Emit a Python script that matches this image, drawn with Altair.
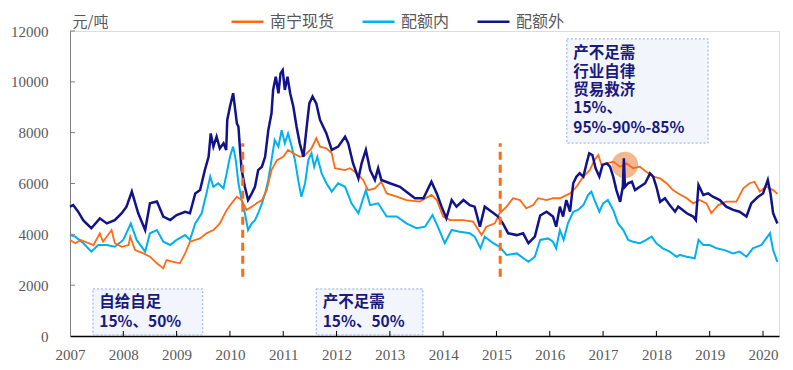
import altair as alt
import pandas as pd

# ---- data ----
spot_years = [2007.0, 2007.1, 2007.2, 2007.44, 2007.56, 2007.62, 2007.78, 2007.84, 2007.97, 2008.1,
              2008.13, 2008.22, 2008.38, 2008.5, 2008.63, 2008.75, 2008.81, 2008.94, 2009.06, 2009.16,
              2009.25, 2009.44, 2009.56, 2009.69, 2009.81, 2009.94, 2010.03, 2010.13, 2010.22, 2010.31,
              2010.41, 2010.5, 2010.6, 2010.69, 2010.78, 2010.88, 2011.0, 2011.09, 2011.19, 2011.31,
              2011.41, 2011.53, 2011.62, 2011.69, 2011.81, 2011.91, 2011.97, 2012.16, 2012.25, 2012.38,
              2012.5, 2012.59, 2012.72, 2012.84, 2012.94, 2013.13, 2013.31, 2013.56, 2013.78, 2013.88,
              2014.0, 2014.13, 2014.38, 2014.56, 2014.72, 2014.81, 2014.97, 2015.06, 2015.19, 2015.31,
              2015.44, 2015.56, 2015.69, 2015.78, 2015.94, 2016.06, 2016.19, 2016.38, 2016.5, 2016.63,
              2016.75, 2016.84, 2016.91, 2016.97, 2017.07, 2017.19, 2017.32, 2017.44, 2017.56, 2017.69,
              2017.81, 2017.94, 2018.07, 2018.19, 2018.31, 2018.41, 2018.57, 2018.69, 2018.81, 2018.94,
              2019.03, 2019.16, 2019.31, 2019.5, 2019.63, 2019.75, 2019.84, 2019.94, 2020.06, 2020.19,
              2020.27]
spot_values = [3780, 3650, 3780, 3580, 4040, 3710, 4170, 3650, 3510, 3580,
               3910, 3380, 3250, 3120, 2860, 2660, 2990, 2920, 2860, 3250,
               3710, 3840, 4040, 4170, 4430, 4960, 5220, 5480, 5350, 4960,
               5090, 5220, 5350, 5740, 6530, 6920, 7050, 7320, 7190, 7050,
               7120, 7380, 7780, 7450, 7380, 7190, 6600, 6530, 6600, 6400,
               6140, 5740, 5810, 6070, 5610, 5480, 5350, 5290, 5550, 5350,
               4700, 4560, 4560, 4500, 3970, 4300, 4430, 4830, 5090, 5420,
               5350, 5020, 5150, 5420, 5350, 5420, 5420, 5610, 5870, 6270,
               6530, 6920, 7120, 6730, 6790, 6860, 6660, 6790, 6600, 6660,
               6460, 6270, 6200, 6010, 5740, 5610, 5420, 5220, 5350, 5220,
               4830, 5150, 5290, 5290, 5810, 6010, 6070, 5680, 5870, 5740,
               5590]

in_years = [2007.0, 2007.1, 2007.25, 2007.4, 2007.53, 2007.69, 2007.84, 2008.0, 2008.14, 2008.25,
            2008.41, 2008.5, 2008.63, 2008.75, 2008.88, 2009.0, 2009.16, 2009.25, 2009.35, 2009.47,
            2009.56, 2009.63, 2009.69, 2009.78, 2009.88, 2009.94, 2010.0, 2010.06, 2010.11, 2010.16,
            2010.22, 2010.28, 2010.34, 2010.41, 2010.47, 2010.53, 2010.6, 2010.66, 2010.72, 2010.78,
            2010.84, 2010.91, 2010.97, 2011.03, 2011.09, 2011.16, 2011.22, 2011.28, 2011.34, 2011.41,
            2011.47, 2011.53, 2011.58, 2011.64, 2011.72, 2011.81, 2011.91, 2012.03, 2012.16, 2012.28,
            2012.41, 2012.55, 2012.63, 2012.78, 2012.94, 2013.13, 2013.31, 2013.5, 2013.66, 2013.8,
            2013.9, 2014.03, 2014.16, 2014.31, 2014.5, 2014.59, 2014.7, 2014.78, 2014.94, 2015.06,
            2015.19, 2015.38, 2015.6, 2015.72, 2015.82, 2015.97, 2016.06, 2016.12, 2016.19, 2016.26,
            2016.34, 2016.44, 2016.53, 2016.63, 2016.72, 2016.78, 2016.84, 2016.93, 2017.0, 2017.09,
            2017.19, 2017.28, 2017.38, 2017.47, 2017.56, 2017.69, 2017.81, 2017.91, 2018.0, 2018.12,
            2018.25, 2018.38, 2018.44, 2018.57, 2018.72, 2018.79, 2018.88, 2019.0, 2019.13, 2019.28,
            2019.44, 2019.56, 2019.69, 2019.81, 2019.97, 2020.13, 2020.19, 2020.27]
in_values = [3970, 3910, 3650, 3320, 3580, 3580, 3510, 3780, 4430, 3780,
             3320, 4040, 4170, 3710, 3580, 3780, 3970, 3780, 4430, 4830,
             5610, 6270, 5870, 6010, 5810, 6400, 7050, 7450, 6920, 6010,
             5350, 4830, 4170, 4430, 4560, 4830, 5220, 5610, 6140, 6920,
             7710, 7450, 8100, 7580, 7970, 7450, 6920, 6140, 5480, 6010,
             6920, 7190, 6660, 7050, 6400, 6010, 5680, 6010, 5870, 5220,
             4830, 5740, 5150, 5220, 4700, 4700, 4430, 4240, 4300, 4760,
             4300, 3650, 4170, 4100, 4040, 3910, 3450, 3910, 3650, 3510,
             3190, 3250, 2920, 3120, 3780, 3840, 3710, 3450, 4170, 3780,
             4430, 4890, 4960, 5150, 5550, 5680, 5350, 4890, 5220, 5350,
             4960, 4430, 4170, 3780, 3710, 3650, 3780, 3910, 3650, 3450,
             3320, 3120, 3190, 3120, 3060, 3780, 3580, 3580, 3450, 3380,
             3250, 3320, 3120, 3450, 3580, 4040, 3380, 2920]

out_years = [2007.0, 2007.06, 2007.15, 2007.25, 2007.4, 2007.56, 2007.69, 2007.84, 2007.97, 2008.06,
             2008.16, 2008.28, 2008.41, 2008.5, 2008.63, 2008.75, 2008.88, 2009.0, 2009.16, 2009.25,
             2009.35, 2009.44, 2009.53, 2009.6, 2009.64, 2009.69, 2009.75, 2009.81, 2009.88, 2009.93,
             2009.95, 2010.0, 2010.06, 2010.1, 2010.13, 2010.16, 2010.19, 2010.22, 2010.28, 2010.34,
             2010.41, 2010.47, 2010.53, 2010.6, 2010.66, 2010.72, 2010.78, 2010.81, 2010.86, 2010.91,
             2010.95, 2010.99, 2011.03, 2011.08, 2011.13, 2011.19, 2011.25, 2011.31, 2011.38, 2011.44,
             2011.49, 2011.55, 2011.62, 2011.69, 2011.75, 2011.81, 2011.91, 2012.03, 2012.16, 2012.22,
             2012.31, 2012.41, 2012.47, 2012.55, 2012.63, 2012.72, 2012.78, 2012.84, 2013.0, 2013.19,
             2013.31, 2013.47, 2013.63, 2013.78, 2013.88, 2013.97, 2014.06, 2014.16, 2014.25, 2014.38,
             2014.5, 2014.59, 2014.69, 2014.78, 2014.91, 2015.03, 2015.12, 2015.22, 2015.38, 2015.5,
             2015.6, 2015.72, 2015.82, 2015.94, 2016.06, 2016.12, 2016.19, 2016.25, 2016.31, 2016.38,
             2016.44, 2016.5, 2016.56, 2016.63, 2016.69, 2016.74, 2016.8, 2016.86, 2016.93, 2016.99,
             2017.07, 2017.13, 2017.19, 2017.25, 2017.32, 2017.37, 2017.39, 2017.41, 2017.47, 2017.54,
             2017.6, 2017.69, 2017.79, 2017.88, 2017.94, 2018.0, 2018.07, 2018.16, 2018.25, 2018.35,
             2018.41, 2018.57, 2018.69, 2018.74, 2018.79, 2018.88, 2018.97, 2019.06, 2019.19, 2019.31,
             2019.44, 2019.56, 2019.69, 2019.78, 2019.91, 2020.0, 2020.09, 2020.14, 2020.19, 2020.27]
out_values = [5090, 5150, 4900, 4550, 4240, 4630, 4430, 4560, 4830, 5090,
              5680, 4830, 4170, 5220, 5290, 4700, 4560, 4760, 4890, 4830,
              5610, 5740, 6530, 7050, 7970, 7450, 7840, 7380, 7580, 7320,
              8500, 9020, 9550, 8890, 8370, 8230, 7320, 6530, 5870, 5350,
              5610, 5870, 6530, 6660, 7050, 8100, 8760, 9680, 10200, 9550,
              10330, 10460, 9680, 10200, 9550, 9020, 8230, 7580, 7050, 8230,
              9150, 9420, 9150, 8500, 8230, 7970, 7320, 7450, 7840, 7580,
              6790, 6200, 6790, 7320, 6530, 6140, 6600, 6140, 6010, 5870,
              5680, 5420, 5420, 6070, 5610, 5090, 4630, 5350, 5090, 5350,
              5150, 5090, 4300, 5090, 4890, 4700, 4430, 4040, 3970, 4040,
              3650, 3910, 4740, 4890, 4700, 4300, 5090, 4700, 5350, 4890,
              6010, 6270, 6400, 6270, 6790, 7190, 7120, 6600, 6270, 6730,
              6790, 6660, 6270, 5740, 5280, 5870, 6990, 5870, 6010, 6070,
              5740, 5870, 6010, 6400, 6270, 5870, 5280, 5420, 5150, 4890,
              5090, 4830, 4700, 4560, 5940, 5550, 5610, 5480, 5350, 5090,
              4960, 4890, 4700, 5220, 5480, 5610, 6140, 5610, 4830, 4430]

series_names = ["南宁现货", "配额内", "配额外"]
series_colors = ["#FF6A13", "#00B0F0", "#12128A"]

year_ticks = list(range(2007, 2021))
value_ticks = list(range(0, 12001, 2000))

# annotations (data coordinates)
policy_years = [2010.24, 2015.07]
policy_low = [2330, 2330]
policy_high = [7580, 7580]

box_x1 = [2007.43, 2011.62, 2016.32]
box_x2 = [2009.49, 2013.62, 2018.97]
box_y1 = [40, 40, 7590]
box_y2 = [1850, 1850, 11690]

label_x = [2007.55, 2007.55, 2011.74, 2011.74, 2016.44, 2016.44, 2016.44, 2016.44, 2016.44]
label_y = [1340, 570, 1340, 570, 11130, 10390, 9680, 8970, 8190]
label_text = ["自给自足", "15%、50%", "产不足需", "15%、50%",
              "产不足需", "行业自律", "贸易救济", "15%、", "95%-90%-85%"]

mark_year = [2017.41]
mark_value = [6730]

# ---- build tables ----
df_spot = pd.DataFrame({"year": spot_years, "value": spot_values, "series": series_names[0]})
df_in = pd.DataFrame({"year": in_years, "value": in_values, "series": series_names[1]})
df_out = pd.DataFrame({"year": out_years, "value": out_values, "series": series_names[2]})

xscale = alt.Scale(domain=[2007, 2020.3], nice=False, zero=False)
yscale = alt.Scale(domain=[0, 12000], nice=False)

xaxis = alt.Axis(values=year_ticks, format="d", ticks=False, grid=False, domainColor="#000000",
                 domainWidth=1.5, labelFont="Liberation Serif", labelFontSize=15,
                 labelColor="#595959", labelPadding=11, labelFlush=False, title=None)
yaxis = alt.Axis(values=value_ticks, format="d", ticks=False, grid=False, domainColor="#7f7f7f",
                 domainWidth=1, labelFont="Liberation Serif", labelFontSize=15,
                 labelColor="#595959", labelPadding=22, title="元/吨", titleAngle=0,
                 titleAlign="left", titleBaseline="middle", titleX=2, titleY=-10,
                 titleFont="Noto Sans CJK SC", titleFontSize=15, titleFontWeight="normal",
                 titleColor="#595959")

color = alt.Color("series:N", scale=alt.Scale(domain=series_names, range=series_colors),
                  legend=alt.Legend(title=None, orient="none", legendX=160, legendY=-27,
                                    direction="horizontal", symbolType="stroke",
                                    symbolSize=1024, symbolStrokeWidth=2.5,
                                    labelFont="Noto Sans CJK SC", labelFontSize=16,
                                    labelColor="#595959", labelOffset=5, columnPadding=22))

def line(df, w):
    return alt.Chart(df).mark_line(strokeWidth=w).encode(
        x=alt.X("year:Q", scale=xscale, axis=xaxis),
        y=alt.Y("value:Q", scale=yscale, axis=yaxis),
        color=color,
    )

lines = line(df_in, 2.0) + line(df_spot, 1.8) + line(df_out, 2.5)

xt = alt.Chart(pd.DataFrame({"t": year_ticks[1:]})).mark_rule(color="#000000", strokeWidth=1).encode(
    x=alt.X("t:Q", scale=xscale), y=alt.datum(0), y2=alt.datum(200))
yt = alt.Chart(pd.DataFrame({"v": value_ticks[1:]})).mark_rule(color="#7f7f7f", strokeWidth=1).encode(
    y=alt.Y("v:Q", scale=yscale), x=alt.datum(2007), x2=alt.datum(2007.094))

policy = alt.Chart(pd.DataFrame({"x": policy_years, "lo": policy_low, "hi": policy_high})).mark_rule(
    color="#FF6A13", strokeWidth=3, strokeDash=[8, 5]).encode(
    x=alt.X("x:Q", scale=xscale), y=alt.Y("lo:Q", scale=yscale), y2="hi:Q")

circle = alt.Chart(pd.DataFrame({"x": mark_year, "y": mark_value})).mark_circle(
    size=700, color="#F0A674", opacity=0.8).encode(
    x=alt.X("x:Q", scale=xscale), y=alt.Y("y:Q", scale=yscale))

boxes = alt.Chart(pd.DataFrame({"x1": box_x1, "x2": box_x2, "y1": box_y1, "y2": box_y2})).mark_rect(
    fill="#F2F5FB", stroke="#8FAADC", strokeWidth=1, strokeDash=[2, 2]).encode(
    x=alt.X("x1:Q", scale=xscale), x2="x2:Q", y=alt.Y("y1:Q", scale=yscale), y2="y2:Q")

labels = alt.Chart(pd.DataFrame({"x": label_x, "y": label_y, "t": label_text})).mark_text(
    align="left", baseline="middle", font="Noto Sans CJK SC", fontSize=15.5, fontWeight="bold",
    color="#1A1A7E").encode(
    x=alt.X("x:Q", scale=xscale), y=alt.Y("y:Q", scale=yscale), text="t:N")

chart = alt.layer(boxes, circle, lines, xt, yt, policy, labels).properties(
    width=709, height=305,
    autosize=alt.AutoSizeParams(type="none"),
    padding={"left": 62, "top": 23, "right": 6, "bottom": 26},
).configure_view(stroke=None).configure(background="#ffffff")

chart.save("out.html", embed_options={"renderer": "svg", "actions": False})
